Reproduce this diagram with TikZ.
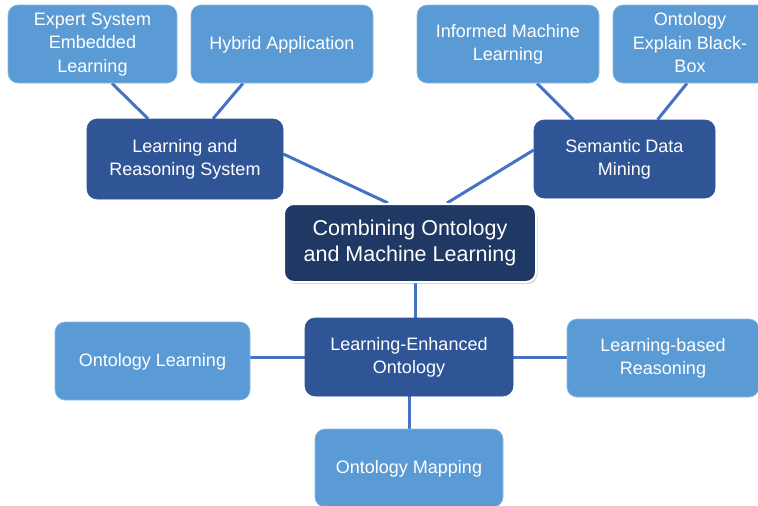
\documentclass[tikz,border=0pt]{standalone}
\usepackage{fontspec}
\setmainfont{Liberation Sans}
\usetikzlibrary{shadows,backgrounds}
\definecolor{lightbox}{HTML}{5B9BD5}
\definecolor{darkbox}{HTML}{2F5597}
\definecolor{navybox}{HTML}{1F3864}
\definecolor{linkblue}{HTML}{4472C4}
\begin{document}
\begin{tikzpicture}[x=1pt,y=-1pt,
    leaf/.style={rectangle,rounded corners=10pt,fill=lightbox,draw=lightbox!70!white,line width=0.6pt,text=white,align=center,minimum height=78pt,font=\fontsize{18}{23.5}\selectfont,inner sep=2pt,text depth=3pt},
    branch/.style={leaf,fill=darkbox,draw=darkbox},
    root/.style={rectangle,rounded corners=10pt,fill=navybox,draw=white,line width=2pt,text=white,align=center,minimum width=252pt,minimum height=78pt,font=\fontsize{21.5}{26}\selectfont,text depth=4pt,drop shadow={opacity=0.35,shadow xshift=1.5pt,shadow yshift=-2pt}},
    link/.style={draw=linkblue,line width=3pt}]
      \useasboundingbox (0,0) rectangle (758,506);
      \clip (0,0) rectangle (758,506);
      \node[leaf,minimum width=169pt] (expert) at (92.5,44) {Expert System\\Embedded\\Learning};
      \node[leaf,minimum width=182pt] (hybrid) at (282,44) {Hybrid Application};
      \node[leaf,minimum width=182pt] (informed) at (508,44) {Informed Machine\\Learning};
      \node[leaf,minimum width=154pt] (blackbox) at (690,44) {Ontology\\Explain Black-\\Box};
      \node[branch,minimum width=196pt,minimum height=80pt] (lrs) at (185,159) {Learning and\\Reasoning System};
      \node[branch,minimum width=181pt] (sdm) at (624.5,159) {Semantic Data\\Mining};
      \node[root] (combine) at (410,243) {Combining Ontology\\and Machine Learning};
      \node[branch,minimum width=208pt] (leo) at (409,357) {Learning-Enhanced\\Ontology};
      \node[leaf,minimum width=195pt] (ontlearn) at (152.5,361) {Ontology Learning};
      \node[leaf,minimum width=192pt] (lbr) at (663,358) {Learning-based\\Reasoning};
      \node[leaf,minimum width=188pt] (mapping) at (409,468) {Ontology Mapping};
      \begin{pgfonlayer}{background}
      \draw[link] ([xshift=19.5pt]expert.south) -- ([xshift=-37pt]lrs.north);
      \draw[link] ([xshift=-39pt]hybrid.south) -- ([xshift=28pt]lrs.north);
      \draw[link] ([yshift=5pt]lrs.east) -- ([xshift=-22pt]combine.north);
      \draw[link] ([yshift=9pt]sdm.west) -- ([xshift=37pt]combine.north);
      \draw[link] ([xshift=29pt]informed.south) -- ([xshift=-51pt]sdm.north);
      \draw[link] ([xshift=-3pt]blackbox.south) -- ([xshift=33pt]sdm.north);
      \draw[link] ([xshift=5pt]combine.south) -- ([xshift=5pt]combine.south |- leo.north);
      \draw[link] (ontlearn.east |- leo.west) -- (leo.west);
      \draw[link] (leo.east) -- (lbr.west |- leo.east);
      \draw[link] (leo.south) -- (mapping.north);
      \end{pgfonlayer}
    \end{tikzpicture}
\end{document}
